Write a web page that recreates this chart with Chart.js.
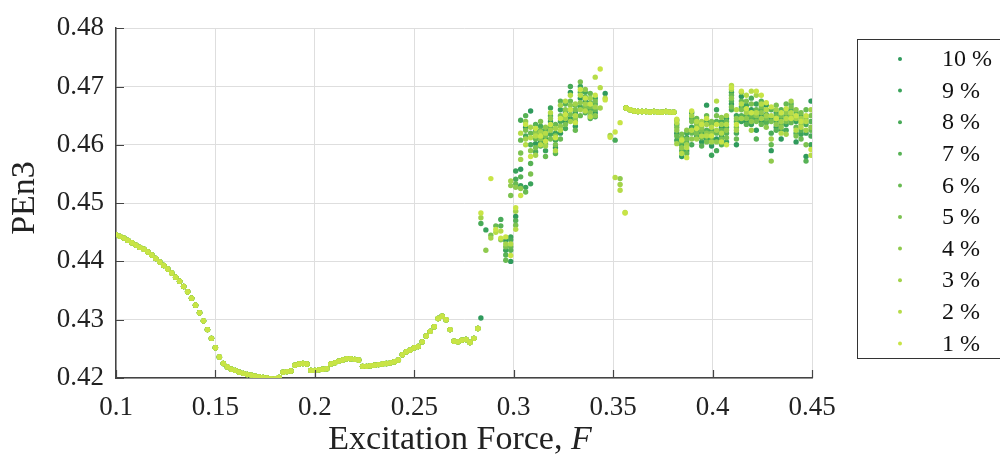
<!DOCTYPE html>
<html>
<head>
<meta charset="utf-8">
<script src="https://cdn.jsdelivr.net/npm/chart.js@4/dist/chart.umd.min.js"></script>
<style>
  body { margin: 0; background: #fff; }
  #wrap { width: 1000px; height: 459px; }
</style>
</head>
<body>
<div id="wrap"><canvas id="pen-chart" width="1000" height="459"></canvas></div>
<script>
// Series labels and colours (legend order, darkest first)
const seriesLabels = ['10 %', '9 %', '8 %', '7 %', '6 %', '5 %', '4 %', '3 %', '2 %', '1 %'];
const seriesColors = ['#2f9a5c', '#3aa35a', '#48aa58', '#57b255', '#68ba52',
                      '#7bc250', '#8fca4d', '#a3d34b', '#b6dc48', '#c8e446'];

// Axis ticks
const xTickValues = [0.1, 0.15, 0.2, 0.25, 0.3, 0.35, 0.4, 0.45];
const xTickLabels = ['0.1', '0.15', '0.2', '0.25', '0.3', '0.35', '0.4', '0.45'];
const yTickValues = [0.42, 0.43, 0.44, 0.45, 0.46, 0.47, 0.48];
const yTickLabels = ['0.42', '0.43', '0.44', '0.45', '0.46', '0.47', '0.48'];

// Shared smooth branch (all series coincide here)
const baseX = [0.100, 0.102, 0.104, 0.106, 0.108, 0.110, 0.112, 0.114, 0.116, 0.118,
               0.120, 0.122, 0.124, 0.126, 0.128, 0.130, 0.132, 0.134, 0.136, 0.138,
               0.140, 0.142, 0.144, 0.146, 0.148, 0.150, 0.152, 0.154, 0.156, 0.158,
               0.160, 0.162, 0.164, 0.166, 0.168, 0.170, 0.172, 0.174, 0.176, 0.178,
               0.180, 0.182, 0.184, 0.186, 0.188, 0.190, 0.192, 0.194, 0.196, 0.198,
               0.200, 0.202, 0.204, 0.206, 0.208, 0.210, 0.212, 0.214, 0.216, 0.218,
               0.220, 0.222, 0.224, 0.226, 0.228, 0.230, 0.232, 0.234, 0.236, 0.238,
               0.240, 0.242, 0.244, 0.246, 0.248, 0.250, 0.252, 0.254, 0.256, 0.258,
               0.260, 0.262, 0.264, 0.266, 0.268, 0.270, 0.272, 0.274, 0.276, 0.278,
               0.280, 0.282];
const baseY = [0.4446, 0.4443, 0.4440, 0.4436, 0.4432, 0.4428, 0.4424, 0.4421, 0.4416, 0.4411,
               0.4405, 0.4399, 0.4393, 0.4387, 0.4380, 0.4373, 0.4366, 0.4357, 0.4348, 0.4337,
               0.4325, 0.4312, 0.4298, 0.4283, 0.4268, 0.4252, 0.4236, 0.4225, 0.4219, 0.4215,
               0.4213, 0.4210, 0.4208, 0.4206, 0.4205, 0.4203, 0.4202, 0.4201, 0.4200, 0.4199,
               0.4199, 0.4201, 0.4210, 0.4211, 0.4212, 0.4222, 0.4224, 0.4225, 0.4224, 0.4213,
               0.4213, 0.4214, 0.4215, 0.4216, 0.4224, 0.4226, 0.4229, 0.4231, 0.4233, 0.4233,
               0.4232, 0.4231, 0.4220, 0.4220, 0.4221, 0.4222, 0.4223, 0.4224, 0.4225, 0.4226,
               0.4228, 0.4231, 0.4240, 0.4245, 0.4248, 0.4252, 0.4254, 0.4262, 0.4272, 0.4280,
               0.4288, 0.4302, 0.4306, 0.4300, 0.4283, 0.4263, 0.4262, 0.4265, 0.4266, 0.4261,
               0.4268, 0.4285];

// Flat stretch between the two chaotic bands
const plateauX = [0.3565, 0.3585, 0.3605, 0.3625, 0.3645, 0.3665, 0.3685, 0.3705, 0.3725,
                  0.3745, 0.3765, 0.3785, 0.3805];
const plateauY = [0.4663, 0.4660, 0.4658, 0.4657, 0.4657, 0.4657, 0.4656, 0.4657, 0.4656,
                  0.4656, 0.4657, 0.4656, 0.4656];

// First scattered band, x positions and one y list per series (null = no point)
const leftX = [0.2835, 0.286, 0.2885, 0.291, 0.2935, 0.296, 0.2985, 0.301, 0.3035, 0.306,
               0.3085, 0.311, 0.3135, 0.316, 0.3185, 0.321, 0.3235, 0.326, 0.3285, 0.331,
               0.3335, 0.336, 0.3385, 0.341, 0.3435, 0.346, 0.3485, 0.351, 0.3535, 0.356];
const left10 = [0.4303, null, null, null, null, 0.4436, 0.4400, 0.4477, 0.4558, 0.4630, 0.4658, 0.4602, 0.4618, 0.4610, 0.4640, 0.4595, 0.4620, 0.4640, 0.4690, 0.4632, 0.4680, 0.4675, 0.4650, 0.4655, null, 0.4688, null, null, null, null];
const left9 = [null, 0.4454, null, null, null, 0.4419, 0.4442, 0.4555, 0.4530, 0.4527, 0.4533, 0.4625, 0.4605, 0.4590, 0.4663, 0.4620, 0.4660, 0.4655, 0.4645, 0.4655, 0.4700, 0.4660, 0.4672, 0.4680, null, null, null, null, null, null];
const left8 = [0.4465, null, null, null, 0.4472, null, 0.4437, 0.4541, 0.4642, 0.4615, 0.4600, 0.4588, 0.4632, 0.4625, 0.4618, 0.4608, 0.4640, 0.4628, 0.4700, 0.4640, 0.4665, 0.4690, 0.4660, 0.4648, null, null, null, 0.4608, null, null];
const left7 = [null, null, null, null, 0.4461, 0.4411, 0.4419, 0.4470, 0.4545, 0.4650, 0.4568, 0.4635, 0.4598, 0.4602, 0.4650, 0.4585, 0.4675, 0.4670, 0.4660, 0.4668, 0.4690, 0.4655, 0.4645, 0.4670, null, null, null, null, null, null];
const left6 = [null, null, null, 0.4461, null, 0.4402, 0.4425, 0.4533, 0.4608, 0.4519, 0.4620, 0.4610, 0.4625, 0.4580, 0.4630, 0.4635, 0.4610, 0.4648, 0.4675, 0.4625, 0.4650, 0.4682, 0.4688, 0.4660, null, null, null, null, null, null];
const left5 = [null, null, 0.4445, null, null, 0.4425, 0.4513, 0.4462, 0.4586, 0.4625, 0.4550, 0.4595, 0.4640, 0.4615, 0.4610, 0.4600, 0.4650, 0.4635, 0.4652, 0.4660, 0.4708, 0.4665, 0.4665, 0.4675, null, null, null, null, null, null];
const left4 = [null, 0.4419, null, null, 0.4437, null, 0.4530, 0.4527, 0.4525, 0.4640, 0.4590, 0.4620, 0.4610, 0.4630, 0.4645, 0.4615, 0.4632, 0.4660, 0.4668, 0.4645, 0.4672, 0.4695, 0.4655, 0.4650, null, null, null, null, 0.4542, null];
const left3 = [0.4475, null, 0.4440, null, null, 0.4430, 0.4538, 0.4486, 0.4575, 0.4610, 0.4630, 0.4582, 0.4622, 0.4598, 0.4625, 0.4628, 0.4668, 0.4645, 0.4640, 0.4670, 0.4660, 0.4670, 0.4680, 0.4665, 0.4663, null, 0.4616, null, 0.4532, null];
const left2 = [null, null, null, 0.4450, 0.4452, null, 0.4430, 0.4455, 0.4620, 0.4600, 0.4612, 0.4615, 0.4600, 0.4620, 0.4655, 0.4590, 0.4625, 0.4675, 0.4685, 0.4650, 0.4685, 0.4658, 0.4648, 0.4716, 0.4698, 0.4680, null, 0.4544, 0.4522, 0.4484];
const left1 = [0.4483, null, 0.4542, 0.4455, 0.4440, 0.4442, 0.4410, 0.4492, 0.4513, 0.4635, 0.4580, 0.4628, 0.4615, 0.4606, 0.4635, 0.4612, 0.4645, 0.4652, 0.4660, 0.4638, 0.4695, 0.4680, 0.4670, 0.4685, 0.4730, 0.4677, 0.4613, 0.4622, 0.4638, 0.4483];

// Second scattered band
const rightX = [0.382, 0.3845, 0.387, 0.3895, 0.392, 0.3945, 0.397, 0.3995, 0.402, 0.4045,
                0.407, 0.4095, 0.412, 0.4145, 0.417, 0.4195, 0.422, 0.4245, 0.427, 0.4295,
                0.432, 0.4345, 0.437, 0.4395, 0.442, 0.4445, 0.447, 0.4495];
const right10 = [0.4620, 0.4580, 0.4612, 0.4655, 0.4625, 0.4605, 0.4668, 0.4598, 0.4610, 0.4630, 0.4645, 0.4670, 0.4600, 0.4683, 0.4640, 0.4660, 0.4625, 0.4650, 0.4668, 0.4590, 0.4630, 0.4610, 0.4660, 0.4648, 0.4605, 0.4640, 0.4580, 0.4675];
const right9 = [0.4635, 0.4600, 0.4590, 0.4630, 0.4640, 0.4620, 0.4610, 0.4582, 0.4660, 0.4615, 0.4605, 0.4690, 0.4650, 0.4640, 0.4668, 0.4635, 0.4670, 0.4640, 0.4640, 0.4645, 0.4655, 0.4625, 0.4635, 0.4660, 0.4640, 0.4618, 0.4620, 0.4600];
const right8 = [0.4608, 0.4612, 0.4620, 0.4600, 0.4615, 0.4635, 0.4640, 0.4625, 0.4590, 0.4640, 0.4630, 0.4660, 0.4620, 0.4665, 0.4650, 0.4680, 0.4645, 0.4660, 0.4652, 0.4620, 0.4640, 0.4645, 0.4625, 0.4642, 0.4620, 0.4650, 0.4635, 0.4615];
const right7 = [0.4642, 0.4590, 0.4605, 0.4645, 0.4630, 0.4598, 0.4625, 0.4610, 0.4640, 0.4600, 0.4620, 0.4675, 0.4640, 0.4650, 0.4635, 0.4645, 0.4610, 0.4675, 0.4638, 0.4660, 0.4625, 0.4660, 0.4650, 0.4670, 0.4655, 0.4625, 0.4572, 0.4640];
const right6 = [0.4615, 0.4605, 0.4585, 0.4620, 0.4645, 0.4612, 0.4650, 0.4635, 0.4620, 0.4625, 0.4640, 0.4685, 0.4610, 0.4675, 0.4660, 0.4650, 0.4660, 0.4635, 0.4660, 0.4600, 0.4650, 0.4635, 0.4670, 0.4638, 0.4630, 0.4610, 0.4660, 0.4625];
const right5 = [0.4630, 0.4618, 0.4610, 0.4640, 0.4620, 0.4625, 0.4605, 0.4640, 0.4650, 0.4610, 0.4612, 0.4665, 0.4630, 0.4660, 0.4675, 0.4670, 0.4640, 0.4665, 0.4645, 0.4640, 0.4668, 0.4650, 0.4640, 0.4665, 0.4615, 0.4655, 0.4600, 0.4650];
const right4 = [0.4625, 0.4595, 0.4625, 0.4610, 0.4635, 0.4630, 0.4620, 0.4620, 0.4605, 0.4647, 0.4625, 0.4680, 0.4645, 0.4690, 0.4645, 0.4640, 0.4650, 0.4655, 0.4630, 0.4572, 0.4635, 0.4630, 0.4655, 0.4650, 0.4660, 0.4635, 0.4645, 0.4630];
const right3 = [0.4602, 0.4610, 0.4600, 0.4650, 0.4610, 0.4640, 0.4635, 0.4605, 0.4625, 0.4635, 0.4650, 0.4695, 0.4625, 0.4645, 0.4655, 0.4625, 0.4685, 0.4645, 0.4650, 0.4610, 0.4660, 0.4640, 0.4618, 0.4675, 0.4645, 0.4645, 0.4625, 0.4660];
const right2 = [0.4638, 0.4585, 0.4595, 0.4625, 0.4640, 0.4615, 0.4615, 0.4630, 0.4675, 0.4620, 0.4635, 0.4702, 0.4660, 0.4670, 0.4685, 0.4692, 0.4655, 0.4670, 0.4660, 0.4650, 0.4645, 0.4620, 0.4645, 0.4655, 0.4625, 0.4630, 0.4640, 0.4582];
const right1 = [0.4644, 0.4608, 0.4578, 0.4658, 0.4628, 0.4635, 0.4645, 0.4615, 0.4635, 0.4605, 0.4600, 0.4698, 0.4635, 0.4692, 0.4662, 0.4655, 0.4692, 0.4685, 0.4672, 0.4665, 0.4645, 0.4655, 0.4662, 0.4645, 0.4650, 0.4640, 0.4650, 0.4592];

const leftSets = [left10, left9, left8, left7, left6, left5, left4, left3, left2, left1];
const rightSets = [right10, right9, right8, right7, right6, right5, right4, right3, right2, right1];

const FONT = '"Liberation Serif", "DejaVu Serif", serif';

// Turn x/y lists into {x, y} points, skipping gaps
function toPoints(xs, ys) {
    const pts = [];
    xs.forEach((x, i) => {
        if (ys[i] !== null && ys[i] !== undefined) pts.push({ x: x, y: ys[i] });
    });
    return pts;
}

const datasets = seriesLabels.map((label, i) => ({
    label: label,
    data: toPoints(baseX, baseY)
        .concat(toPoints(leftX, leftSets[i]))
        .concat(toPoints(plateauX, plateauY))
        .concat(toPoints(rightX, rightSets[i])),
    backgroundColor: seriesColors[i],
    borderWidth: 0,
    pointRadius: 2.7,
    // lightest series sits on top
    order: seriesLabels.length - i
}));

// Inward tick marks, axis titles and the boxed legend
const decorations = {
    id: 'decorations',
    afterDraw(chart) {
        const { ctx, chartArea: a, scales: { x, y } } = chart;
        ctx.save();

        ctx.strokeStyle = '#444';
        ctx.lineWidth = 1.2;
        ctx.beginPath();
        xTickValues.forEach(v => {
            const px = Math.round(x.getPixelForValue(v)) + 0.5;
            ctx.moveTo(px, a.bottom);
            ctx.lineTo(px, a.bottom - 8);
        });
        yTickValues.forEach(v => {
            const py = Math.round(y.getPixelForValue(v)) + 0.5;
            ctx.moveTo(a.left, py);
            ctx.lineTo(a.left + 8, py);
        });
        ctx.stroke();

        // x title with italic F
        ctx.fillStyle = '#222';
        ctx.textBaseline = 'middle';
        ctx.textAlign = 'left';
        const plain = 'Excitation Force, ';
        ctx.font = '34px ' + FONT;
        const w1 = ctx.measureText(plain).width;
        ctx.font = 'italic 34px ' + FONT;
        const w2 = ctx.measureText('F').width;
        const tx = 460 - (w1 + w2) / 2;
        ctx.font = '34px ' + FONT;
        ctx.fillText(plain, tx, 440);
        ctx.font = 'italic 34px ' + FONT;
        ctx.fillText('F', tx + w1, 440);

        // y title
        ctx.save();
        ctx.translate(25, 198);
        ctx.rotate(-Math.PI / 2);
        ctx.textAlign = 'center';
        ctx.font = '34px ' + FONT;
        ctx.fillText('PEn3', 0, 0);
        ctx.restore();

        // legend box
        ctx.strokeStyle = '#333';
        ctx.lineWidth = 1;
        ctx.strokeRect(857.5, 39.5, 160, 319);
        ctx.font = '24px ' + FONT;
        ctx.textAlign = 'left';
        seriesLabels.forEach((label, i) => {
            const ly = 59 + i * 31.6;
            ctx.fillStyle = seriesColors[i];
            ctx.beginPath();
            ctx.arc(900, ly, 2, 0, Math.PI * 2);
            ctx.fill();
            ctx.fillStyle = '#111';
            ctx.fillText(label, 942, ly + 1);
        });

        ctx.restore();
    }
};

new Chart(document.getElementById('pen-chart'), {
    type: 'scatter',
    data: { datasets: datasets },
    options: {
        responsive: false,
        animation: false,
        events: [],
        layout: { padding: { top: 18, right: 188, bottom: 0, left: 0 } },
        plugins: {
            legend: { display: false },
            tooltip: { enabled: false }
        },
        scales: {
            x: {
                type: 'linear',
                min: 0.1,
                max: 0.45,
                afterBuildTicks: s => { s.ticks = xTickValues.map(v => ({ value: v })); },
                afterFit: s => { s.height = 81; },
                ticks: {
                    callback: (v, i) => xTickLabels[i],
                    font: { family: FONT, size: 27 },
                    color: '#222',
                    padding: 14,
                    maxRotation: 0,
                    autoSkip: false
                },
                grid: { color: '#dedede', lineWidth: 1, drawTicks: false },
                border: { color: '#444', width: 1.5 }
            },
            y: {
                type: 'linear',
                min: 0.42,
                max: 0.48,
                afterBuildTicks: s => { s.ticks = yTickValues.map(v => ({ value: v })); },
                afterFit: s => { s.width = 116; },
                ticks: {
                    callback: (v, i) => yTickLabels[i],
                    font: { family: FONT, size: 27 },
                    color: '#222',
                    padding: 12,
                    autoSkip: false
                },
                grid: { color: '#dedede', lineWidth: 1, drawTicks: false },
                border: { color: '#444', width: 1.5 }
            }
        }
    },
    plugins: [decorations]
});
</script>
</body>
</html>
